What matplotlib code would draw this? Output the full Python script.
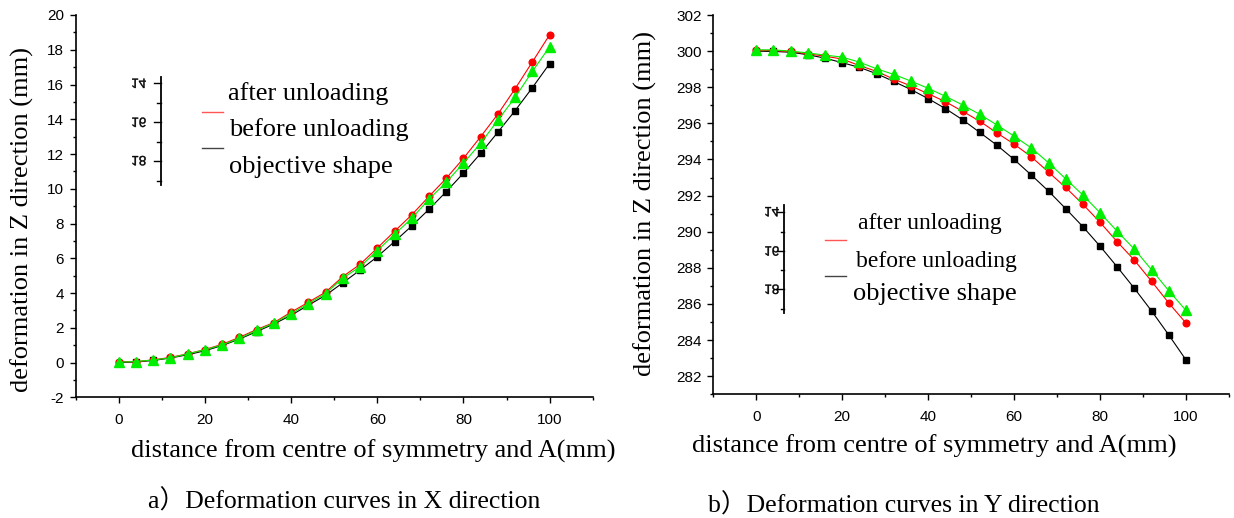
import matplotlib
matplotlib.use("Agg")
import matplotlib.pyplot as plt
from matplotlib.lines import Line2D
from matplotlib.textpath import TextPath
from matplotlib.patches import PathPatch
from matplotlib.font_manager import FontProperties
from matplotlib.transforms import Affine2D
from matplotlib.ticker import MultipleLocator

plt.rcParams["axes.unicode_minus"] = False

# ---------------- data ----------------
x_dist = [0, 4, 8, 12, 16, 20, 24, 28, 32, 36, 40, 44, 48, 52, 56, 60, 64, 68, 72, 76, 80, 84, 88, 92, 96, 100]

# a) X direction
after_a = [0.05, 0.05, 0.15, 0.30, 0.50, 0.75, 1.05, 1.45, 1.90, 2.30, 2.90, 3.47, 4.05, 4.95, 5.65, 6.59,
           7.55, 8.50, 9.56, 10.60, 11.75, 13.00, 14.30, 15.76, 17.30, 18.86]
before_a = [0.02, 0.06, 0.15, 0.27, 0.50, 0.73, 1.02, 1.39, 1.85, 2.27, 2.81, 3.39, 3.97, 4.86, 5.51, 6.44,
            7.38, 8.30, 9.40, 10.37, 11.48, 12.62, 13.95, 15.26, 16.76, 18.17]
objective_a = [0.00, 0.03, 0.12, 0.26, 0.45, 0.68, 0.98, 1.35, 1.78, 2.22, 2.72, 3.30, 3.87, 4.59, 5.32, 6.09,
               6.96, 7.86, 8.82, 9.83, 10.90, 12.04, 13.26, 14.50, 15.82, 17.20]

# b) Y direction
after_b = [300.05, 300.03, 299.98, 299.85, 299.72, 299.56, 299.20, 298.88, 298.45, 298.07, 297.64, 297.20,
           296.67, 296.12, 295.47, 294.85, 294.15, 293.30, 292.45, 291.52, 290.52, 289.44, 288.42, 287.25,
           286.05, 284.94]
before_b = [300.07, 300.07, 300.00, 299.90, 299.78, 299.67, 299.39, 299.02, 298.71, 298.34, 297.94, 297.50,
            297.02, 296.50, 295.91, 295.29, 294.64, 293.82, 292.93, 292.03, 291.05, 290.02, 289.03, 287.89,
            286.73, 285.64]
objective_b = [300.00, 299.98, 299.94, 299.80, 299.61, 299.36, 299.10, 298.75, 298.32, 297.87, 297.37, 296.82,
               296.20, 295.50, 294.79, 294.00, 293.14, 292.25, 291.28, 290.28, 289.20, 288.05, 286.86, 285.61,
               284.28, 282.90]

legend_labels = ["after unloading", "before unloading", "objective shape"]
legend_ticklabels = ["14", "16", "18"]
xlabel = "distance from centre of symmetry and A(mm)"
ylabel = "deformation in Z direction (mm)"
captions = ["a\uff09Deformation curves in X direction", "b\uff09Deformation curves in Y direction"]

# ---------------- figure ----------------
W, H = 1234, 518
DPI = 100
fig = plt.figure(figsize=(W / DPI, H / DPI), dpi=DPI)
fig.patch.set_facecolor("white")

SERIF = ["Liberation Serif", "Noto Sans CJK SC", "DejaVu Serif"]
SANS = "Liberation Sans"


def fx(px):
    return px / W


def fy(py):
    return 1 - py / H


def make_axes(left, right, top, bottom):
    ax = fig.add_axes([fx(left), fy(bottom), fx(right - left), (bottom - top) / H])
    for s in ("top", "right"):
        ax.spines[s].set_visible(False)
    for s in ("left", "bottom"):
        ax.spines[s].set_linewidth(1.2)
    ax.tick_params(which="major", direction="out", length=4.5, width=1.0, labelsize=11, pad=4)
    ax.tick_params(which="minor", direction="out", length=2.3, width=1.0)
    ax.tick_params(axis="x", which="major", pad=7)
    return ax


def draw_series(ax, xs, obj, aft, bef):
    ax.plot(xs, obj, color="black", lw=0.8, marker="s", ms=3.8, mec="black", mfc="black", zorder=3)
    ax.plot(xs, aft, color="red", lw=0.8, marker="o", ms=4.8, mec="red", mfc="red", zorder=4)
    ax.plot(xs, bef, color="#00ee00", lw=0.8, marker="^", ms=7.2, mec="#00ee00", mfc="#00ee00", zorder=5)


def setup(ax, ylim):
    ax.set_xlim(-10, 110)
    ax.set_ylim(*ylim)
    ax.xaxis.set_major_locator(MultipleLocator(20))
    ax.xaxis.set_minor_locator(MultipleLocator(10))
    ax.yaxis.set_major_locator(MultipleLocator(2))
    ax.yaxis.set_minor_locator(MultipleLocator(1))
    for lab in ax.get_xticklabels() + ax.get_yticklabels():
        lab.set_fontfamily(SANS)


axA = make_axes(75.7, 592.7, 15, 397.3)
draw_series(axA, x_dist, objective_a, after_a, before_a)
setup(axA, (-2, 20))

axB = make_axes(713.3, 1229, 15, 394.3)
draw_series(axB, x_dist, objective_b, after_b, before_b)
setup(axB, (281, 302))

# axis labels and captions
LBL = 19
fig.text(fx(21.8), fy(220), ylabel, rotation=90, ha="center", va="center", fontsize=LBL, family=SERIF)
fig.text(fx(645.5), fy(204), ylabel, rotation=90, ha="center", va="center", fontsize=LBL, family=SERIF)
fig.text(fx(131), fy(451.7), xlabel, ha="left", va="center", fontsize=LBL, family=SERIF)
fig.text(fx(692.5), fy(446.7), xlabel, ha="left", va="center", fontsize=LBL, family=SERIF)
fig.text(fx(148.3), fy(501.7), captions[0], ha="left", va="center", fontsize=18.5, family=SERIF)
fig.text(fx(708), fy(505), captions[1], ha="left", va="center", fontsize=18.5, family=SERIF)


def flipped_label(s, cx, cy, size_px=13.5):
    path = TextPath((0, 0), s, size=size_px, prop=FontProperties(family=SANS))
    ext = path.get_extents()
    mx = (ext.x0 + ext.x1) / 2
    my = (ext.y0 + ext.y1) / 2
    tr = Affine2D().translate(-mx, -my).scale(1, -1).translate(cx, H - cy)
    fig.add_artist(PathPatch(path, transform=tr, facecolor="black", edgecolor="black", lw=0.3))


def fake_legend(line_x, y_top, y_bot, major_ys, minor_ys, lab_x,
                seg_x0, seg_x1, red_y, black_y, texts):
    fig.add_artist(Line2D([fx(line_x), fx(line_x)], [fy(y_top), fy(y_bot)], color="black", lw=1.3,
                          transform=fig.transFigure))
    for yy in major_ys:
        fig.add_artist(Line2D([fx(line_x - 7), fx(line_x)], [fy(yy), fy(yy)], color="black", lw=1.0,
                              transform=fig.transFigure))
    for yy in minor_ys:
        fig.add_artist(Line2D([fx(line_x - 3.5), fx(line_x)], [fy(yy), fy(yy)], color="black", lw=1.0,
                              transform=fig.transFigure))
    for s, yy in zip(legend_ticklabels, major_ys):
        flipped_label(s, lab_x, yy)
    fig.add_artist(Line2D([fx(seg_x0), fx(seg_x1)], [fy(red_y), fy(red_y)], color="#ff5555", lw=1.0,
                          transform=fig.transFigure))
    fig.add_artist(Line2D([fx(seg_x0), fx(seg_x1)], [fy(black_y), fy(black_y)], color="#444444", lw=1.0,
                          transform=fig.transFigure))
    for (s, tx, ty, fs) in texts:
        fig.text(fx(tx), fy(ty), s, ha="left", va="center", fontsize=fs, family=SERIF)


fake_legend(160.7, 76.7, 185, [83.3, 122.3, 160.7], [102.7, 141.7, 180.7], 139,
            201.7, 222.7, 111.7, 147.7,
            [(legend_labels[0], 227.7, 93.3, 19), (legend_labels[1], 229.3, 129.3, 19),
             (legend_labels[2], 229.3, 166.7, 19)])

fake_legend(784.3, 205, 313.3, [211.7, 251, 289.3], [231.7, 270, 309], 772,
            825, 846, 240, 276,
            [(legend_labels[0], 858.3, 223.3, 17), (legend_labels[1], 856, 261, 17),
             (legend_labels[2], 852.7, 294, 19)])

fig.savefig("out.png", dpi=DPI, facecolor="white")
